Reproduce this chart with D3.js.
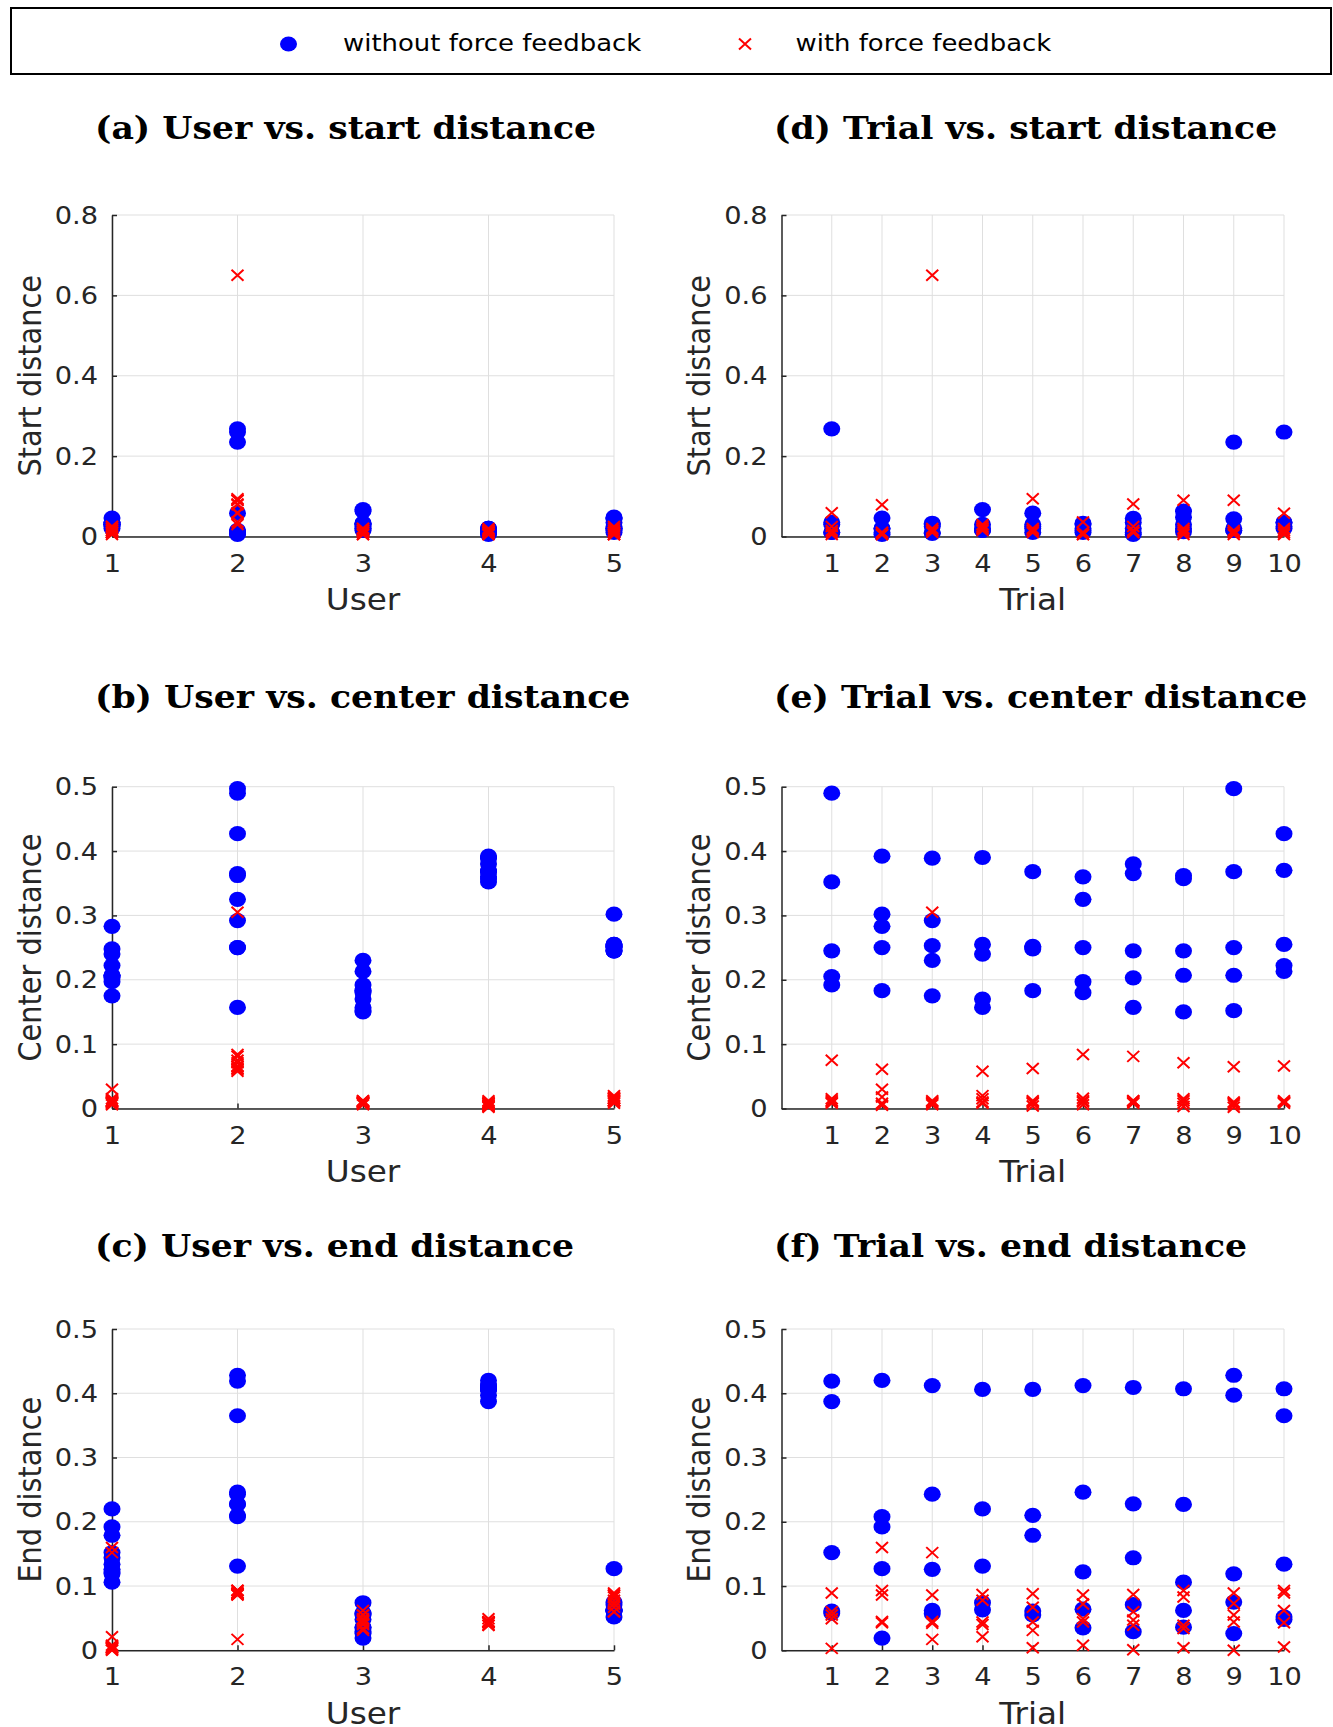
<!DOCTYPE html>
<html>
<head>
<meta charset="utf-8">
<script src="https://cdn.jsdelivr.net/npm/d3@7"></script>
<style>
  body { margin: 0; background: #fff; }
  svg { display: block; }
</style>
</head>
<body>
<div id="chart"></div>
<script>
// x categories
var users = [1, 2, 3, 4, 5];
var trials = [1, 2, 3, 4, 5, 6, 7, 8, 9, 10];

// y tick labels
var startTicks = [0, 0.2, 0.4, 0.6, 0.8];
var distTicks = [0, 0.1, 0.2, 0.3, 0.4, 0.5];

// one row per user, one column per trial
var startNoFF = [
  [0.035, 0.046, 0.030, 0.030, 0.025, 0.030, 0.035, 0.030, 0.020, 0.035],
  [0.268, 0.010, 0.008, 0.015, 0.058, 0.010, 0.005, 0.012, 0.235, 0.260],
  [0.030, 0.020, 0.033, 0.067, 0.030, 0.033, 0.020, 0.063, 0.015, 0.025],
  [0.010, 0.005, 0.010, 0.020, 0.010, 0.015, 0.010, 0.020, 0.015, 0.020],
  [0.010, 0.020, 0.025, 0.015, 0.020, 0.020, 0.045, 0.048, 0.044, 0.035]
];
var startFF = [
  [0.025, 0.010, 0.015, 0.020, 0.010, 0.005, 0.025, 0.015, 0.010, 0.020],
  [0.059, 0.079, 0.650, 0.030, 0.094, 0.036, 0.081, 0.090, 0.090, 0.058],
  [0.015, 0.005, 0.020, 0.015, 0.020, 0.010, 0.010, 0.005, 0.015, 0.010],
  [0.010, 0.005, 0.015, 0.020, 0.015, 0.010, 0.015, 0.010, 0.005, 0.015],
  [0.005, 0.010, 0.010, 0.025, 0.015, 0.005, 0.010, 0.020, 0.010, 0.005]
];
var centerNoFF = [
  [0.205, 0.283, 0.175, 0.240, 0.248, 0.197, 0.203, 0.207, 0.207, 0.222],
  [0.490, 0.250, 0.292, 0.157, 0.250, 0.325, 0.365, 0.362, 0.497, 0.427],
  [0.192, 0.183, 0.230, 0.170, 0.183, 0.180, 0.157, 0.150, 0.152, 0.213],
  [0.352, 0.392, 0.389, 0.390, 0.368, 0.360, 0.380, 0.357, 0.368, 0.370],
  [0.245, 0.302, 0.253, 0.255, 0.252, 0.250, 0.245, 0.245, 0.250, 0.255]
];
var centerFF = [
  [0.012, 0.030, 0.010, 0.015, 0.008, 0.010, 0.012, 0.008, 0.006, 0.010],
  [0.075, 0.061, 0.305, 0.058, 0.062, 0.084, 0.081, 0.071, 0.065, 0.066],
  [0.010, 0.008, 0.012, 0.008, 0.010, 0.006, 0.010, 0.012, 0.008, 0.010],
  [0.008, 0.005, 0.006, 0.010, 0.004, 0.012, 0.008, 0.003, 0.002, 0.008],
  [0.015, 0.018, 0.008, 0.020, 0.012, 0.016, 0.012, 0.015, 0.010, 0.012]
];
var endNoFF = [
  [0.152, 0.192, 0.126, 0.220, 0.179, 0.122, 0.144, 0.106, 0.119, 0.134],
  [0.419, 0.208, 0.243, 0.131, 0.210, 0.246, 0.228, 0.227, 0.428, 0.365],
  [0.058, 0.019, 0.057, 0.074, 0.055, 0.035, 0.029, 0.036, 0.026, 0.048],
  [0.387, 0.420, 0.412, 0.406, 0.406, 0.412, 0.409, 0.407, 0.397, 0.407],
  [0.061, 0.127, 0.062, 0.063, 0.061, 0.064, 0.071, 0.062, 0.075, 0.052]
];
var endFF = [
  [0.003, 0.160, 0.152, 0.021, 0.004, 0.008, 0.001, 0.004, 0.000, 0.005],
  [0.089, 0.093, 0.017, 0.087, 0.088, 0.086, 0.087, 0.093, 0.089, 0.093],
  [0.055, 0.045, 0.042, 0.040, 0.031, 0.049, 0.047, 0.034, 0.055, 0.062],
  [0.049, 0.043, 0.045, 0.044, 0.044, 0.044, 0.039, 0.039, 0.044, 0.043],
  [0.060, 0.086, 0.086, 0.078, 0.067, 0.072, 0.060, 0.083, 0.073, 0.089]
];

var panels = [
  {title: "(a) User vs. start distance",   by: "user",  col: 0, row: 0, yLabel: "Start distance",  ticks: startTicks,  noFF: startNoFF,  ff: startFF},
  {title: "(b) User vs. center distance",  by: "user",  col: 0, row: 1, yLabel: "Center distance", ticks: distTicks,   noFF: centerNoFF, ff: centerFF},
  {title: "(c) User vs. end distance",     by: "user",  col: 0, row: 2, yLabel: "End distance",    ticks: distTicks,   noFF: endNoFF,    ff: endFF},
  {title: "(d) Trial vs. start distance",  by: "trial", col: 1, row: 0, yLabel: "Start distance",  ticks: startTicks,  noFF: startNoFF,  ff: startFF},
  {title: "(e) Trial vs. center distance", by: "trial", col: 1, row: 1, yLabel: "Center distance", ticks: distTicks,   noFF: centerNoFF, ff: centerFF},
  {title: "(f) Trial vs. end distance",    by: "trial", col: 1, row: 2, yLabel: "End distance",    ticks: distTicks,   noFF: endNoFF,    ff: endFF}
];

var W = 1333, H = 1727;
// the figure is slightly wider than tall, text and markers are stretched the same way
var K = 1.09;
var cols = [
  {left: 112, right: 614, titleX: 95, yLabelX: 40.5},
  {left: 781.5, right: 1284, titleX: 774, yLabelX: 709.5}
];
var rows = [
  {top: 215, bottom: 536.5, titleY: 138.5},
  {top: 786.7, bottom: 1108.5, titleY: 708},
  {top: 1329, bottom: 1650.3, titleY: 1256.5}
];

var axisColor = "#262626", gridColor = "#dfdfdf";
var blue = "#0000ff", red = "#ff0000";
var dotRx = 8.5, dotRy = 7.6, crossX = 6, crossY = 5.5;
var yPad = 14;

var svg = d3.select("#chart").append("svg")
  .attr("width", W)
  .attr("height", H);

function dot(g, x, y) {
  g.append("ellipse")
    .attr("cx", x).attr("cy", y)
    .attr("rx", dotRx).attr("ry", dotRy)
    .attr("fill", blue);
}

function cross(g, x, y) {
  g.append("path")
    .attr("d", "M" + (x - crossX) + "," + (y - crossY) + "L" + (x + crossX) + "," + (y + crossY) +
               "M" + (x - crossX) + "," + (y + crossY) + "L" + (x + crossX) + "," + (y - crossY))
    .attr("stroke", red)
    .attr("stroke-width", 2)
    .attr("fill", "none");
}

function label(g, x, y, size, txt) {
  return g.append("text")
    .attr("transform", "translate(" + x + "," + y + ") scale(" + K + ",1)")
    .style("font-family", "DejaVu Sans")
    .style("font-size", size + "px")
    .text(txt);
}

// legend
var legend = svg.append("g");
legend.append("rect")
  .attr("x", 11).attr("y", 8)
  .attr("width", 1320).attr("height", 66)
  .attr("fill", "#fff")
  .attr("stroke", "#000")
  .attr("stroke-width", 2);
dot(legend, 288.5, 44);
label(legend, 343, 51, 23.8, "without force feedback");
cross(legend, 745, 44);
label(legend, 795.5, 51, 23.8, "with force feedback");

panels.forEach(function(p) {
  var c = cols[p.col], r = rows[p.row];
  var g = svg.append("g");

  var xVals = p.by === "user" ? users : trials;
  var x = d3.scaleLinear()
    .domain(p.by === "user" ? [1, 5] : [0, 10])
    .range([c.left, c.right]);
  var y = d3.scaleLinear()
    .domain([0, p.ticks[p.ticks.length - 1]])
    .range([r.bottom, r.top]);

  // grid
  g.selectAll(".gx").data(xVals).enter().append("line")
    .attr("x1", function(d) { return x(d); }).attr("x2", function(d) { return x(d); })
    .attr("y1", r.top).attr("y2", r.bottom)
    .attr("stroke", gridColor).attr("stroke-width", 1);
  g.selectAll(".gy").data(p.ticks).enter().append("line")
    .attr("x1", c.left).attr("x2", c.right)
    .attr("y1", function(d) { return y(d); }).attr("y2", function(d) { return y(d); })
    .attr("stroke", gridColor).attr("stroke-width", 1);

  // axes
  var xAxis = g.append("g")
    .attr("transform", "translate(0," + r.bottom + ")")
    .call(d3.axisBottom(x).tickValues(xVals).tickFormat(String)
      .tickSizeInner(-5).tickSizeOuter(0).tickPadding(17.3));
  var yAxis = g.append("g")
    .attr("transform", "translate(" + c.left + ",0)")
    .call(d3.axisLeft(y).tickValues(p.ticks).tickFormat(String)
      .tickSizeInner(-5).tickSizeOuter(0).tickPadding(yPad));
  [xAxis, yAxis].forEach(function(a) {
    a.select(".domain").attr("stroke", axisColor).attr("stroke-width", 1.5);
    a.selectAll(".tick line").attr("stroke", axisColor).attr("stroke-width", 1.5);
    a.selectAll(".tick text")
      .attr("fill", axisColor)
      .attr("transform", "scale(" + K + ",1)")
      .style("font-family", "DejaVu Sans")
      .style("font-size", "25px");
  });
  yAxis.selectAll(".tick text").attr("x", -yPad / K);

  // points
  var blueG = g.append("g"), redG = g.append("g");
  p.noFF.forEach(function(rowVals, ui) {
    rowVals.forEach(function(v, ti) {
      var xv = p.by === "user" ? users[ui] : trials[ti];
      dot(blueG, x(xv), y(v));
    });
  });
  p.ff.forEach(function(rowVals, ui) {
    rowVals.forEach(function(v, ti) {
      var xv = p.by === "user" ? users[ui] : trials[ti];
      cross(redG, x(xv), y(v));
    });
  });

  // title and labels
  g.append("text")
    .attr("transform", "translate(" + c.titleX + "," + r.titleY + ") scale(" + K + ",1)")
    .style("font-family", "DejaVu Serif")
    .style("font-weight", "bold")
    .style("font-size", "31.8px")
    .attr("fill", "#000")
    .text(p.title);
  label(g, (c.left + c.right) / 2, r.bottom + 73.5, 30, p.by === "user" ? "User" : "Trial")
    .attr("text-anchor", "middle")
    .attr("fill", axisColor);
  g.append("text")
    .attr("transform", "translate(" + c.yLabelX + "," + ((r.top + r.bottom) / 2) + ") rotate(-90) scale(1," + K + ")")
    .attr("text-anchor", "middle")
    .style("font-family", "DejaVu Sans")
    .style("font-size", "28.8px")
    .attr("fill", axisColor)
    .text(p.yLabel);
});
</script>
</body>
</html>
